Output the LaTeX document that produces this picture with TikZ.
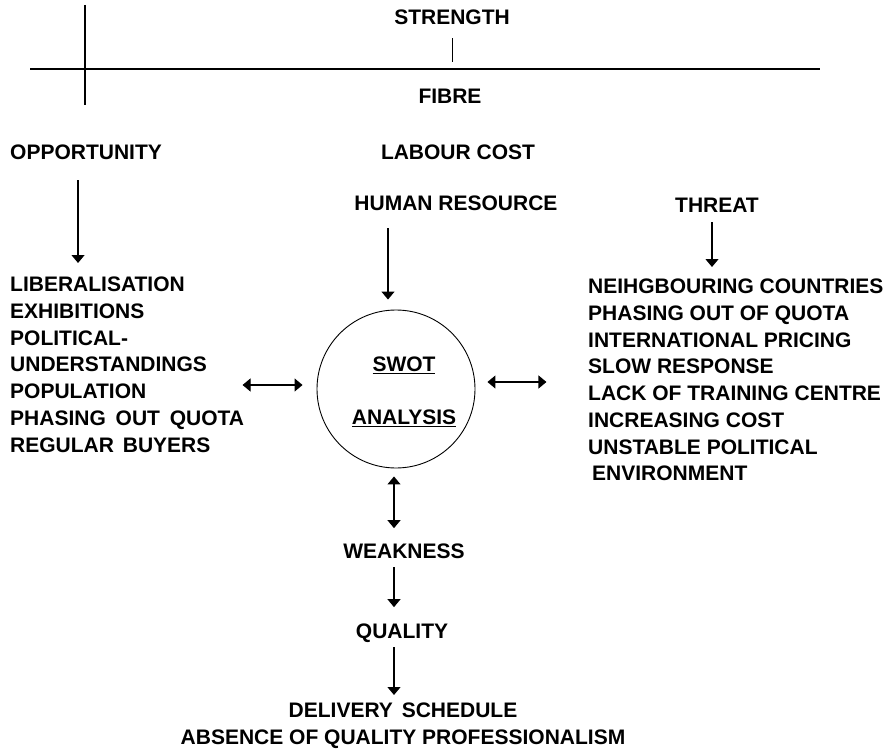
\documentclass[tikz,border=0pt]{standalone}
\usepackage{fontspec}
\setmainfont{Liberation Sans}
\usetikzlibrary{arrows.meta,positioning}

\tikzset{
  lbl/.style={font=\bfseries\fontsize{21}{26.7}\selectfont, inner sep=0pt},
  lst/.style={lbl, align=left, anchor=north west},
  arr/.style={-{Triangle[length=8pt,width=13pt]}, line width=1.1pt},
  dbl/.style={{Triangle[length=8pt,width=13pt]}-{Triangle[length=8pt,width=13pt]}, line width=1.1pt}
}

\begin{document}
\begin{tikzpicture}[x=1pt,y=-1pt]
  \useasboundingbox (0,0) rectangle (887,749);

  \draw[line width=1.1pt] (30,69) -- (820,69);
  \draw[line width=1.1pt] (85,5) -- (85,105);

  \node[lbl, anchor=base] (strength) at (452,25) {STRENGTH};
  \draw[line width=0.9pt] ([yshift=-13pt]strength.south) -- ([yshift=-37pt]strength.south);
  \node[lbl, anchor=base] (fibre) at (450,104) {FIBRE};
  \node[lbl, anchor=base west] (opp) at (10,160) {OPPORTUNITY};
  \node[lbl, anchor=base] (labour) at (458,160) {LABOUR COST};
  \node[lbl, anchor=base] (human) at (456,211) {HUMAN RESOURCE};
  \node[lbl, anchor=base] (threat) at (717,212) {THREAT};

  \node[lst] (oplist) at (10,277) {LIBERALISATION\\EXHIBITIONS\\POLITICAL-\\UNDERSTANDINGS\\POPULATION\\PHASING\hspace{4pt} OUT\hspace{4pt} QUOTA\\REGULAR\hspace{3pt} BUYERS};
  \node[lst] (thlist) at (588,279) {NEIHGBOURING COUNTRIES\\PHASING OUT OF QUOTA\\INTERNATIONAL PRICING\\SLOW RESPONSE\\LACK OF TRAINING CENTRE\\INCREASING COST\\UNSTABLE POLITICAL\\\hspace*{4pt}ENVIRONMENT};

  \node[circle, draw, line width=0.9pt, minimum size=158pt, inner sep=0pt] (swot) at (396,389) {};
  \node[lbl, align=center, anchor=north] (swotlabel) at (404,357) {\underline{SWOT}\\[26.3pt]\underline{ANALYSIS}};

  \draw[arr] ([xshift=-8pt,yshift=-20pt]opp.south) -- ([xshift=-8pt,yshift=14pt]opp.south |- oplist.north);
  \draw[arr] ([xshift=-8pt,yshift=-17pt]human.south -| swot.north) -- ([xshift=-8pt,yshift=10pt]swot.north);
  \draw[arr] ([xshift=-5pt,yshift=-10pt]threat.south) -- ([xshift=-5pt,yshift=12pt]threat.south |- thlist.north);

  \draw[dbl] ([xshift=-74pt,yshift=4pt]swot.west) -- ([xshift=-14pt,yshift=4pt]swot.west);
  \draw[dbl] ([xshift=12pt,yshift=7pt]swot.east) -- ([xshift=71pt,yshift=7pt]swot.east);

  \node[lbl, anchor=base] (weak) at (404,558) {WEAKNESS};
  \node[lbl, anchor=base] (quality) at (402,638) {QUALITY};
  \node[lbl, align=center, anchor=north] (delivery) at (403,703) {DELIVERY\hspace{3pt} SCHEDULE\\ABSENCE OF QUALITY PROFESSIONALISM};

  \draw[dbl] ([xshift=-2pt,yshift=-8pt]swot.south) -- ([xshift=-2pt,yshift=15pt]swot.south |- weak.north);
  \draw[arr] ([xshift=-2pt,yshift=-9pt]weak.base -| swot.south) -- ([xshift=-2pt,yshift=16pt]quality.north -| swot.south);
  \draw[arr] ([xshift=-2pt,yshift=-9pt]quality.base -| swot.south) -- ([xshift=-2pt,yshift=8pt]delivery.north -| swot.south);
\end{tikzpicture}
\end{document}
